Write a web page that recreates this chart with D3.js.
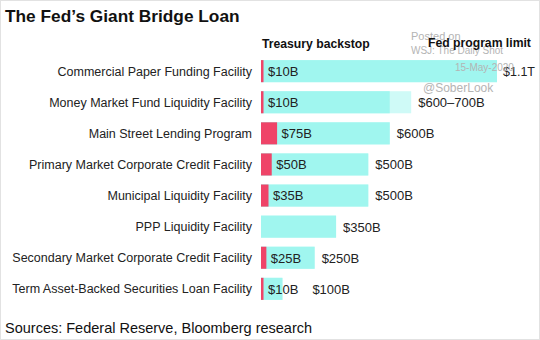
<!DOCTYPE html>
<html><head><meta charset="utf-8">
<script src="https://cdn.jsdelivr.net/npm/d3@7"></script>
<style>body{margin:0;background:#fff;}svg{display:block;font-family:"Liberation Sans",Arial,sans-serif;}</style>
</head><body>
<svg id="c" width="540" height="340"></svg>
<script>
const categories = ["Commercial Paper Funding Facility","Money Market Fund Liquidity Facility","Main Street Lending Program","Primary Market Corporate Credit Facility","Municipal Liquidity Facility","PPP Liquidity Facility","Secondary Market Corporate Credit Facility","Term Asset-Backed Securities Loan Facility"];
const treasury = [10,10,75,50,35,0,25,10];
const fedLimitLow = [1100,600,600,500,500,350,250,100];
const fedLimitHigh = [1100,700,600,500,500,350,250,100];
const treasuryLabels = ["$10B","$10B","$75B","$50B","$35B","","$25B","$10B"];
const limitLabels = ["$1.1T","$600–700B","$600B","$500B","$500B","$350B","$250B","$100B"];

const svg = d3.select("#c");
const x = d3.scaleLinear().domain([0,1100]).range([261,497]);
const y = d3.scaleBand().domain(categories).range([57,303]).paddingInner(0.29).paddingOuter(0.1);

svg.append("rect").attr("x",0.5).attr("y",0.5).attr("width",539).attr("height",339).attr("fill","none").attr("stroke","#e2e2e2");

svg.append("text").attr("x",5).attr("y",22).attr("font-size",17.3).attr("font-weight","bold").attr("fill","#111").text("The Fed’s Giant Bridge Loan");

// watermark
const wm = svg.append("g").attr("fill","#b4b4b4").attr("font-size",11);
wm.append("text").attr("x",411).attr("y",40).text("Posted on");
wm.append("text").attr("x",411).attr("y",54).attr("font-size",10).text("WSJ: The Daily Shot");

svg.append("text").attr("x",262).attr("y",48).attr("font-size",12.2).attr("font-weight","bold").attr("fill","#111").text("Treasury backstop");
svg.append("text").attr("x",428).attr("y",47).attr("font-size",12.2).attr("font-weight","bold").attr("fill","#111").text("Fed program limit");

const rows = svg.append("g").selectAll("g").data(categories).join("g");
// light extension
rows.append("rect").attr("x",x(0)).attr("y",d=>y(d)).attr("height",y.bandwidth())
  .attr("width",(d,i)=>x(fedLimitHigh[i])-x(0)).attr("fill","#cffaf7");
rows.append("rect").attr("x",x(0)).attr("y",d=>y(d)).attr("height",y.bandwidth())
  .attr("width",(d,i)=>x(fedLimitLow[i])-x(0)).attr("fill","#a0f6ef");
rows.append("rect").attr("x",x(0)).attr("y",d=>y(d)).attr("height",y.bandwidth())
  .attr("width",(d,i)=>treasury[i]>0?Math.max(2.5,x(treasury[i])-x(0)):0).attr("fill","#ef4468");

rows.append("text").attr("x",252).attr("y",d=>y(d)+y.bandwidth()/2).attr("dy","0.35em")
  .attr("text-anchor","end").attr("font-size",12.5).attr("fill","#222").text(d=>d);

const inside = rows.append("text").attr("x",(d,i)=>Math.max(x(treasury[i]),x(0)+2.5)+4.5)
  .attr("y",d=>y(d)+y.bandwidth()/2).attr("dy","0.38em").attr("font-size",13).attr("fill","#222")
  .text((d,i)=>treasuryLabels[i]);

rows.append("text").attr("x",function(d,i){
    const n = inside.nodes()[i];
    const end = treasuryLabels[i] ? n.getBBox().x + n.getBBox().width : 0;
    return Math.max(x(fedLimitHigh[i])+ (i===0?6:7), end+14);
  })
  .attr("y",d=>y(d)+y.bandwidth()/2).attr("dy","0.38em").attr("font-size",(d,i)=>i===0?12.5:13).attr("fill","#222")
  .text((d,i)=>limitLabels[i]);

const wm2 = svg.append("g").attr("fill","#b4b4b4");
wm2.append("text").attr("x",455).attr("y",71).attr("font-size",10).text("15-May-2020");
wm2.append("text").attr("x",423).attr("y",92).attr("font-size",12).text("@SoberLook");

svg.append("text").attr("x",5).attr("y",333).attr("font-size",14.5).attr("fill","#111").text("Sources: Federal Reserve, Bloomberg research");
</script>
</body></html>
